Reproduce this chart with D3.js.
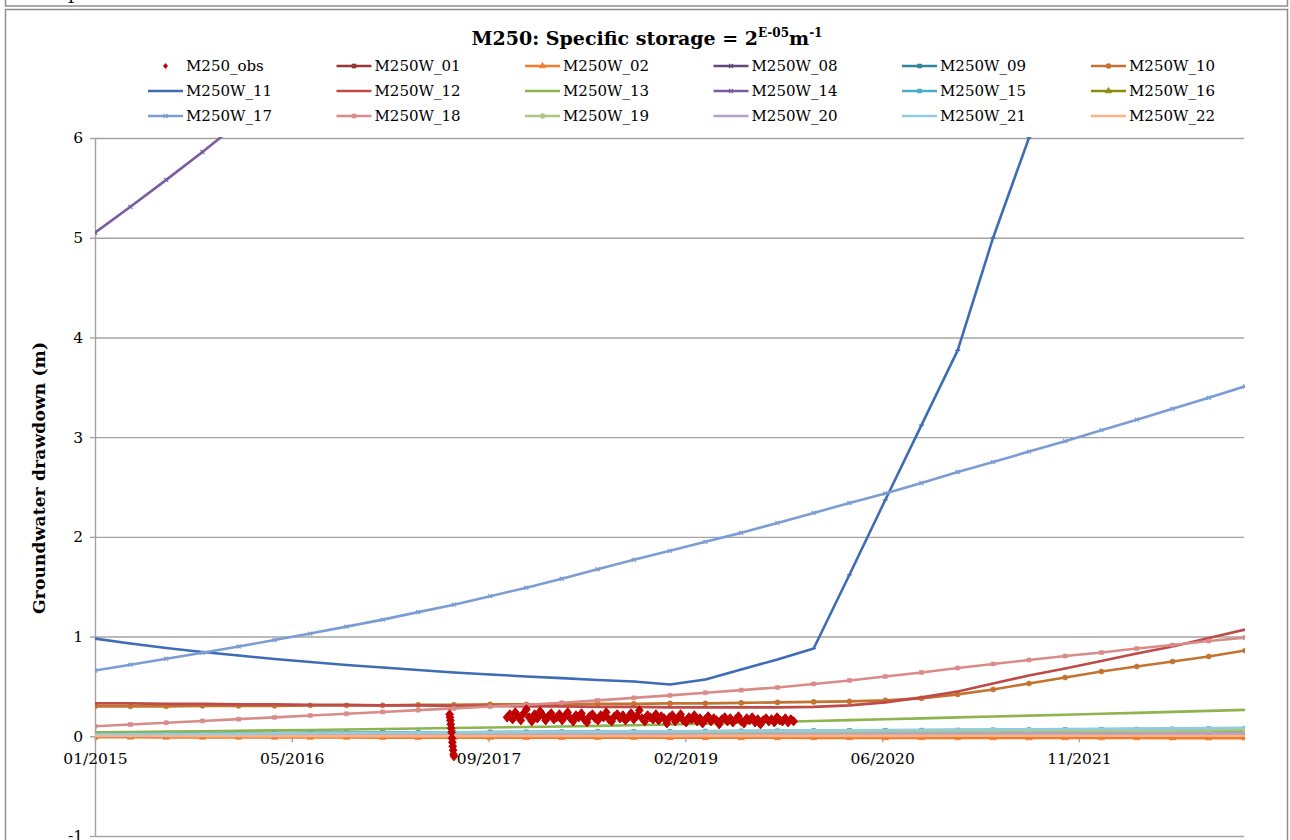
<!DOCTYPE html>
<html>
<head>
<meta charset="utf-8">
<script src="https://cdn.jsdelivr.net/npm/d3@7"></script>
<style>
  body { margin: 0; background: #ffffff; }
  svg { display: block; }
  text { font-family: "DejaVu Serif", serif; fill: #000; }
</style>
</head>
<body>
<div id="chart"></div>
<script>
// quarterly sample dates shared by the modelled series
const dates = [
  "2015-01-01","2015-04-01","2015-07-01","2015-10-01",
  "2016-01-01","2016-04-01","2016-07-01","2016-10-01",
  "2017-01-01","2017-04-01","2017-07-01","2017-10-01",
  "2018-01-01","2018-04-01","2018-07-01","2018-10-01",
  "2019-01-01","2019-04-01","2019-07-01","2019-10-01",
  "2020-01-01","2020-04-01","2020-07-01","2020-10-01",
  "2021-01-01","2021-04-01","2021-07-01","2021-10-01",
  "2022-01-01","2022-04-01","2022-07-01","2022-10-01",
  "2023-01-01"
];

const w01 = [0.000,0.000,0.000,0.001,0.001,0.001,0.001,0.001,0.001,0.001,0.002,0.002,0.002,0.002,0.002,0.002,0.002,0.002,0.002,0.002,0.003,0.003,0.003,0.003,0.003,0.003,0.003,0.003,0.003,0.003,0.003,0.003,0.003];
const w02 = [-0.010,-0.010,-0.011,-0.011,-0.011,-0.012,-0.012,-0.012,-0.013,-0.013,-0.013,-0.013,-0.014,-0.014,-0.014,-0.014,-0.015,-0.015,-0.015,-0.015,-0.016,-0.016,-0.016,-0.016,-0.016,-0.017,-0.017,-0.017,-0.017,-0.017,-0.018,-0.018,-0.018];
const w08 = [0.000,0.002,0.003,0.005,0.006,0.008,0.009,0.010,0.011,0.012,0.013,0.014,0.015,0.016,0.017,0.018,0.019,0.020,0.021,0.022,0.022,0.023,0.024,0.025,0.025,0.026,0.027,0.028,0.028,0.029,0.030,0.031,0.032];
const w09 = [0.025,0.027,0.029,0.030,0.032,0.033,0.035,0.036,0.038,0.039,0.040,0.042,0.043,0.044,0.046,0.047,0.048,0.050,0.051,0.052,0.054,0.055,0.056,0.058,0.059,0.061,0.062,0.064,0.066,0.068,0.070,0.072,0.075];
const w10 = [0.300,0.300,0.300,0.305,0.305,0.305,0.310,0.310,0.310,0.315,0.315,0.320,0.320,0.320,0.325,0.325,0.330,0.330,0.335,0.340,0.345,0.350,0.360,0.380,0.420,0.470,0.530,0.590,0.650,0.700,0.750,0.800,0.860];
const w11 = [0.98,0.93,0.885,0.845,0.81,0.775,0.745,0.715,0.69,0.665,0.64,0.62,0.60,0.583,0.565,0.55,0.52,0.57,0.67,0.77,0.88,1.62,2.37,3.12,3.87,5.0,6.0,7.0,8.0,9.0,10.0,11.0,12.0];
const w12 = [0.330,0.330,0.325,0.325,0.320,0.320,0.315,0.315,0.310,0.310,0.305,0.305,0.300,0.300,0.295,0.295,0.290,0.290,0.290,0.290,0.295,0.310,0.340,0.390,0.450,0.530,0.610,0.680,0.755,0.830,0.900,0.985,1.070];
const w13 = [0.040,0.043,0.047,0.051,0.055,0.059,0.063,0.068,0.073,0.078,0.083,0.088,0.093,0.098,0.104,0.110,0.118,0.126,0.135,0.145,0.153,0.162,0.171,0.180,0.190,0.198,0.207,0.216,0.226,0.235,0.245,0.255,0.265];
const w14 = [5.05,5.31,5.58,5.86,6.15,6.45,6.75,7.06,7.37,7.69,8.01,8.34,8.67,9.00,9.34,9.68,10.02,10.37,10.72,11.07,11.43,11.79,12.15,12.52,12.89,13.26,13.64,14.02,14.40,14.79,15.18,15.57,15.97];
const w15 = [0.020,0.022,0.024,0.026,0.028,0.030,0.032,0.034,0.036,0.037,0.039,0.041,0.043,0.044,0.046,0.048,0.049,0.051,0.053,0.054,0.056,0.058,0.059,0.061,0.063,0.065,0.066,0.068,0.070,0.072,0.074,0.077,0.080];
const w16 = [0.008,0.010,0.011,0.013,0.014,0.016,0.017,0.019,0.020,0.021,0.023,0.024,0.025,0.027,0.028,0.029,0.031,0.032,0.033,0.034,0.036,0.037,0.038,0.039,0.041,0.042,0.043,0.044,0.046,0.047,0.048,0.049,0.050];
const w17 = [0.66,0.718,0.778,0.838,0.90,0.965,1.03,1.10,1.17,1.245,1.32,1.405,1.49,1.58,1.675,1.77,1.86,1.95,2.04,2.14,2.24,2.34,2.435,2.54,2.65,2.75,2.855,2.96,3.07,3.175,3.285,3.395,3.51];
const w18 = [0.100,0.118,0.136,0.154,0.172,0.190,0.208,0.226,0.244,0.262,0.280,0.298,0.316,0.336,0.360,0.385,0.410,0.437,0.463,0.490,0.525,0.560,0.600,0.640,0.685,0.725,0.765,0.805,0.840,0.880,0.915,0.955,0.990];
const w19 = [0.012,0.014,0.015,0.017,0.018,0.020,0.021,0.023,0.024,0.026,0.027,0.028,0.030,0.031,0.033,0.034,0.035,0.037,0.038,0.040,0.041,0.042,0.044,0.045,0.047,0.048,0.050,0.051,0.053,0.054,0.056,0.058,0.060];
const w20 = [0.005,0.006,0.007,0.008,0.009,0.010,0.011,0.012,0.013,0.014,0.015,0.016,0.016,0.017,0.018,0.019,0.020,0.020,0.021,0.022,0.023,0.023,0.024,0.025,0.025,0.026,0.027,0.027,0.028,0.029,0.029,0.030,0.031];
const w21 = [0.018,0.020,0.023,0.025,0.027,0.029,0.031,0.033,0.035,0.037,0.039,0.041,0.043,0.045,0.047,0.049,0.051,0.053,0.055,0.057,0.059,0.061,0.063,0.065,0.067,0.069,0.071,0.073,0.075,0.077,0.079,0.082,0.085];
const w22 = [0.000,0.000,0.001,0.001,0.001,0.001,0.002,0.002,0.002,0.002,0.002,0.003,0.003,0.003,0.003,0.003,0.003,0.004,0.004,0.004,0.004,0.004,0.004,0.004,0.005,0.005,0.005,0.005,0.005,0.005,0.005,0.005,0.005];

// observations: a short daily burst, then weekly readings
const obsBurstStart = "2017-06-20";
const obsBurst = [0.22,0.19,0.16,0.12,0.08,0.04,-0.02,-0.06,-0.10,-0.14,-0.18,-0.20];
const obsWeeklyStart = "2017-11-13";
const obsWeekly = [
  0.19,0.22,0.17,0.24,0.20,0.16,0.23,0.27,0.19,0.15,0.22,0.18,0.25,0.21,0.16,0.20,0.23,0.17,0.19,0.22,
  0.16,0.20,0.24,0.18,0.15,0.21,0.19,0.23,0.17,0.14,0.20,0.22,0.18,0.16,0.21,0.19,0.24,0.17,0.15,0.20,
  0.22,0.18,0.21,0.16,0.19,0.23,0.17,0.20,0.26,0.18,0.15,0.21,0.19,0.17,0.22,0.16,0.20,0.18,0.13,0.19,
  0.21,0.15,0.18,0.22,0.16,0.14,0.19,0.17,0.21,0.15,0.18,0.13,0.17,0.20,0.15,0.18,0.16,0.12,0.17,0.19,
  0.15,0.18,0.14,0.17,0.20,0.15,0.13,0.18,0.16,0.19,0.14,0.17,0.12,0.16,0.18,0.15,0.17,0.14,0.19,0.16,
  0.15,0.18,0.14,0.17,0.15
];

const tickDates = ["2015-01-01","2016-05-15","2017-09-27","2019-02-09","2020-06-23","2021-11-05"];
const yTicks = [-1, 0, 1, 2, 3, 4, 5, 6];

const seriesNames = ["M250W_01","M250W_02","M250W_08","M250W_09","M250W_10","M250W_11","M250W_12","M250W_13","M250W_14",
                     "M250W_15","M250W_16","M250W_17","M250W_18","M250W_19","M250W_20","M250W_21","M250W_22"];
const seriesValues = [w01,w02,w08,w09,w10,w11,w12,w13,w14,w15,w16,w17,w18,w19,w20,w21,w22];

// look of each series (Excel-like palette + marker)
const style = {
  "M250W_01": { color: "#953735", marker: "square" },
  "M250W_02": { color: "#F47A2C", marker: "triangle" },
  "M250W_08": { color: "#604A7B", marker: "cross" },
  "M250W_09": { color: "#31859C", marker: "square" },
  "M250W_10": { color: "#C4722F", marker: "circle" },
  "M250W_11": { color: "#3E6DB4", marker: "dash" },
  "M250W_12": { color: "#BE4B48", marker: "dash" },
  "M250W_13": { color: "#8EB44E", marker: "none" },
  "M250W_14": { color: "#7A5CA0", marker: "cross" },
  "M250W_15": { color: "#4BACC6", marker: "square" },
  "M250W_16": { color: "#8B8B10", marker: "triangle" },
  "M250W_17": { color: "#7B9DD4", marker: "cross" },
  "M250W_18": { color: "#D88C8A", marker: "square" },
  "M250W_19": { color: "#ABC882", marker: "circle" },
  "M250W_20": { color: "#B3A2C7", marker: "dash" },
  "M250W_21": { color: "#93CDDD", marker: "dash" },
  "M250W_22": { color: "#FAB287", marker: "none" }
};
const obsColor = "#C00000";

const parseDate = d3.utcParse("%Y-%m-%d");

const svgWidth = 1290;
const svgHeight = 840;
const plot = { left: 95, right: 1245, top: 138, bottom: 836 };

const svg = d3.select("#chart")
    .append("svg")
    .attr("width", svgWidth)
    .attr("height", svgHeight);

// cell borders round the chart
svg.append("rect")
    .attr("x", 5.5).attr("y", -20)
    .attr("width", 1282).attr("height", 26)
    .attr("fill", "none").attr("stroke", "#8f8f8f").attr("stroke-width", 1.5);
svg.append("text")
    .attr("x", 66).attr("y", 3)
    .attr("font-size", "16px")
    .text("1");
svg.append("rect")
    .attr("x", 5.5).attr("y", 9.5)
    .attr("width", 1282).attr("height", 860)
    .attr("fill", "#fff").attr("stroke", "#8f8f8f").attr("stroke-width", 1.5);

const xScale = d3.scaleUtc()
    .domain([parseDate("2015-01-01"), parseDate("2023-01-01")])
    .range([plot.left, plot.right]);
const yScale = d3.scaleLinear()
    .domain([-1, 6])
    .range([plot.bottom, plot.top]);

svg.append("defs").append("clipPath")
    .attr("id", "plot-clip")
    .append("rect")
    .attr("x", plot.left).attr("y", plot.top - 1)
    .attr("width", plot.right - plot.left).attr("height", plot.bottom - plot.top + 2);

// horizontal gridlines
svg.append("g")
    .attr("transform", "translate(" + plot.left + ",0)")
    .call(d3.axisLeft(yScale).tickValues(yTicks).tickSize(-(plot.right - 1 - plot.left)).tickFormat(""))
    .call(g => {
        g.select(".domain").remove();
        g.selectAll("line").attr("stroke", "#a3a3a3").attr("stroke-width", 1.4);
    });

// y axis
svg.append("g")
    .attr("transform", "translate(" + plot.left + ",0)")
    .call(d3.axisLeft(yScale)
        .tickValues(yTicks)
        .tickFormat(d => String(d))
        .tickSize(5)
        .tickPadding(7)
        .tickSizeOuter(0))
    .call(g => {
        g.select(".domain").attr("stroke", "#a3a3a3").attr("stroke-width", 1.4);
        g.selectAll("line").attr("stroke", "#a3a3a3").attr("stroke-width", 1.4);
        g.selectAll("text")
            .attr("font-family", "DejaVu Serif, serif")
            .attr("font-size", "15.5px")
            .attr("fill", "#000");
    });

// x axis sits on the zero line
svg.append("g")
    .attr("transform", "translate(0," + yScale(0) + ")")
    .call(d3.axisBottom(xScale)
        .tickValues(tickDates.map(parseDate))
        .tickFormat(d3.utcFormat("%m/%Y"))
        .tickSize(6)
        .tickPadding(11)
        .tickSizeOuter(0))
    .call(g => {
        g.select(".domain").remove();
        g.selectAll("line").attr("stroke", "#a3a3a3").attr("stroke-width", 1.4);
        g.selectAll("text")
            .attr("font-family", "DejaVu Serif, serif")
            .attr("font-size", "15.5px")
            .attr("fill", "#000");
    });

const markerPath = (type) => {
    if (type === "square") return d3.symbol(d3.symbolSquare, 16)();
    if (type === "circle") return d3.symbol(d3.symbolCircle, 20)();
    if (type === "triangle") return d3.symbol(d3.symbolTriangle, 18)();
    if (type === "cross") return "M-2,-2L2,2M-2,2L2,-2";
    if (type === "dash") return "M-2.5,0H2.5";
    return null;
};
const isStroked = (type) => type === "cross" || type === "dash";

const line = d3.line()
    .x(d => xScale(d.date))
    .y(d => yScale(d.value));

const plotArea = svg.append("g").attr("clip-path", "url(#plot-clip)");

seriesNames.forEach((name, i) => {
    const st = style[name];
    const data = dates.map((d, j) => ({ date: parseDate(d), value: seriesValues[i][j] }));
    const g = plotArea.append("g").attr("class", "series");

    g.append("path")
        .datum(data)
        .attr("fill", "none")
        .attr("stroke", st.color)
        .attr("stroke-width", 2.6)
        .attr("stroke-linejoin", "round")
        .attr("d", line);

    const mp = markerPath(st.marker);
    if (mp) {
        g.selectAll("path.marker")
            .data(data)
            .enter()
            .append("path")
            .attr("class", "marker")
            .attr("d", mp)
            .attr("transform", d => "translate(" + xScale(d.date) + "," + yScale(d.value) + ")")
            .attr("fill", isStroked(st.marker) ? "none" : st.color)
            .attr("stroke", st.color)
            .attr("stroke-width", isStroked(st.marker) ? 1.2 : 0.6);
    }
});

// observed drawdown as diamonds
const diamond = "M0,-4.6L3.8,0L0,4.6L-3.8,0Z";
const obsData = obsBurst.map((v, i) => ({ date: d3.utcDay.offset(parseDate(obsBurstStart), i), value: v }))
    .concat(obsWeekly.map((v, i) => ({ date: d3.utcDay.offset(parseDate(obsWeeklyStart), 7 * i), value: v })));

plotArea.append("g")
    .selectAll("path")
    .data(obsData)
    .enter()
    .append("path")
    .attr("d", diamond)
    .attr("transform", d => "translate(" + xScale(d.date) + "," + yScale(d.value) + ")")
    .attr("fill", obsColor)
    .attr("stroke", obsColor)
    .attr("stroke-width", 1);

// title with superscripts
const title = svg.append("text")
    .attr("x", 647)
    .attr("y", 45)
    .attr("text-anchor", "middle")
    .attr("font-weight", "bold")
    .attr("font-size", "19px");
title.append("tspan").text("M250: Specific storage = 2");
title.append("tspan").attr("dy", -8).attr("font-size", "12px").text("E-05");
title.append("tspan").attr("dy", 8).text("m");
title.append("tspan").attr("dy", -8).attr("font-size", "12px").text("-1");

// y axis title
svg.append("text")
    .attr("transform", "translate(45," + ((plot.top + plot.bottom) / 2 - 9) + ") rotate(-90)")
    .attr("text-anchor", "middle")
    .attr("font-weight", "bold")
    .attr("font-size", "17px")
    .attr("textLength", 272)
    .attr("lengthAdjust", "spacing")
    .text("Groundwater drawdown (m)");

// legend: 6 columns x 3 rows
const legendCols = [148, 336.5, 525, 713.5, 902, 1091];
const legendRows = [66, 91, 116];
const legendItems = ["M250_obs"].concat(seriesNames);

const legend = svg.append("g").attr("class", "legend");
legendItems.forEach((name, i) => {
    const g = legend.append("g")
        .attr("transform", "translate(" + legendCols[i % 6] + "," + legendRows[Math.floor(i / 6)] + ")");
    if (name === "M250_obs") {
        g.append("path")
            .attr("d", diamond)
            .attr("transform", "translate(17.5,0) scale(0.65)")
            .attr("fill", obsColor);
    } else {
        const st = style[name];
        g.append("line")
            .attr("x1", 0).attr("x2", 35)
            .attr("stroke", st.color)
            .attr("stroke-width", 2.6);
        const mp = markerPath(st.marker);
        if (mp) {
            g.append("path")
                .attr("d", mp)
                .attr("transform", "translate(17.5,0)")
                .attr("fill", isStroked(st.marker) ? "none" : st.color)
                .attr("stroke", st.color)
                .attr("stroke-width", isStroked(st.marker) ? 1.2 : 0.6);
        }
    }
    g.append("text")
        .attr("x", 38)
        .attr("y", 5)
        .attr("font-size", "15px")
        .text(name);
});
</script>
</body>
</html>
